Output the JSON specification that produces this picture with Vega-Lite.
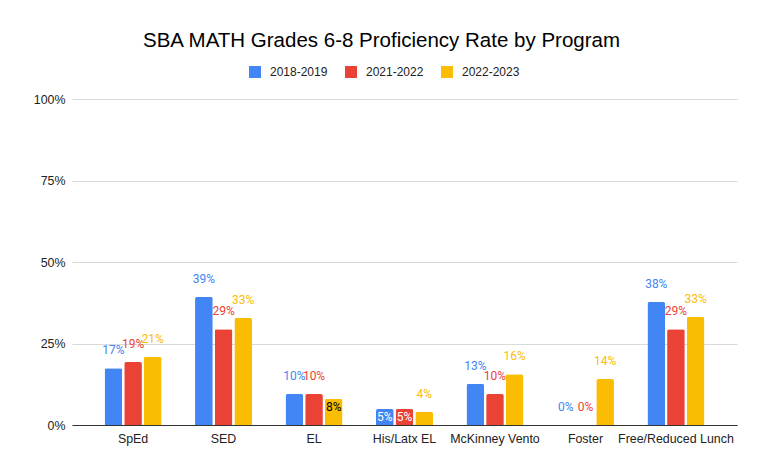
{
  "$schema": "https://vega.github.io/schema/vega-lite/v6.json",
  "width": 665,
  "height": 326,
  "autosize": {"type": "none"},
  "padding": {"left": 72, "top": 99, "right": 26, "bottom": 41},
  "background": "white",
  "config": {"view": {"stroke": null}},
  "title": {
    "text": "SBA MATH Grades 6-8 Proficiency Rate by Program",
    "font": "Liberation Sans",
    "fontSize": 20.5,
    "fontWeight": "normal",
    "color": "#000000",
    "anchor": "middle",
    "offset": 15,
    "dx": -23
  },
  "data": {
    "values": [
      {"program": "SpEd", "year": "2018-2019", "value": 0.174},
      {"program": "SpEd", "year": "2021-2022", "value": 0.193},
      {"program": "SpEd", "year": "2022-2023", "value": 0.209},
      {"program": "SED", "year": "2018-2019", "value": 0.393},
      {"program": "SED", "year": "2021-2022", "value": 0.294},
      {"program": "SED", "year": "2022-2023", "value": 0.328},
      {"program": "EL", "year": "2018-2019", "value": 0.095},
      {"program": "EL", "year": "2021-2022", "value": 0.095},
      {"program": "EL", "year": "2022-2023", "value": 0.08},
      {"program": "His/Latx EL", "year": "2018-2019", "value": 0.049},
      {"program": "His/Latx EL", "year": "2021-2022", "value": 0.049},
      {"program": "His/Latx EL", "year": "2022-2023", "value": 0.04},
      {"program": "McKinney Vento", "year": "2018-2019", "value": 0.126},
      {"program": "McKinney Vento", "year": "2021-2022", "value": 0.095},
      {"program": "McKinney Vento", "year": "2022-2023", "value": 0.156},
      {"program": "Foster", "year": "2018-2019", "value": 0},
      {"program": "Foster", "year": "2021-2022", "value": 0},
      {"program": "Foster", "year": "2022-2023", "value": 0.141},
      {"program": "Free/Reduced Lunch", "year": "2018-2019", "value": 0.377},
      {"program": "Free/Reduced Lunch", "year": "2021-2022", "value": 0.294},
      {"program": "Free/Reduced Lunch", "year": "2022-2023", "value": 0.331}
    ]
  },
  "encoding": {
    "x": {
      "field": "program",
      "type": "nominal",
      "sort": null,
      "scale": {"paddingInner": 0.37, "paddingOuter": 0.36},
      "axis": {
        "title": null,
        "labelAngle": 0,
        "ticks": false,
        "domainColor": "#333333",
        "domainWidth": 1,
        "labelPadding": 7,
        "labelFont": "Liberation Sans",
        "labelFontSize": 12.4,
        "labelColor": "#222222",
        "grid": false
      }
    },
    "xOffset": {
      "field": "year",
      "type": "nominal",
      "scale": {"paddingInner": 0.1, "paddingOuter": 0}
    },
    "y": {
      "field": "value",
      "type": "quantitative",
      "scale": {"domain": [0, 1]},
      "axis": {
        "title": null,
        "format": "%",
        "values": [0, 0.25, 0.5, 0.75, 1],
        "domain": false,
        "ticks": false,
        "labelPadding": 7,
        "gridColor": "#d9d9d9",
        "labelFont": "Liberation Sans",
        "labelFontSize": 12.4,
        "labelColor": "#222222"
      }
    }
  },
  "layer": [
    {
      "mark": {"type": "bar", "cornerRadiusTopLeft": 2, "cornerRadiusTopRight": 2},
      "encoding": {
        "color": {
          "field": "year",
          "type": "nominal",
          "scale": {
            "domain": ["2018-2019", "2021-2022", "2022-2023"],
            "range": ["#4285F4", "#EA4335", "#FBBC04"]
          },
          "legend": {
            "orient": "none",
            "legendX": 177,
            "legendY": -33,
            "direction": "horizontal",
            "title": null,
            "symbolType": "square",
            "symbolSize": 144,
            "symbolStrokeWidth": 0,
            "labelFont": "Liberation Sans",
            "labelFontSize": 12,
            "labelColor": "#222222",
            "labelOffset": 9,
            "columnPadding": 17
          }
        }
      }
    },
    {
      "transform": [
        {"filter": "!((datum.program === 'EL' && datum.year === '2022-2023') || (datum.program === 'His/Latx EL' && datum.year !== '2022-2023'))"}
      ],
      "mark": {"type": "text", "font": "Roboto", "fontSize": 12, "baseline": "alphabetic", "dy": -14},
      "encoding": {
        "text": {"field": "value", "type": "quantitative", "format": ".0%"},
        "color": {"field": "year", "type": "nominal", "legend": null}
      }
    },
    {
      "transform": [
        {"filter": "(datum.program === 'EL' && datum.year === '2022-2023') || (datum.program === 'His/Latx EL' && datum.year !== '2022-2023')"}
      ],
      "mark": {"type": "text", "font": "Roboto", "fontSize": 12, "baseline": "alphabetic", "dy": 12},
      "encoding": {
        "text": {"field": "value", "type": "quantitative", "format": ".0%"},
        "color": {
          "condition": {"test": "datum.year === '2022-2023'", "value": "#000000"},
          "value": "#ffffff"
        }
      }
    }
  ]
}
